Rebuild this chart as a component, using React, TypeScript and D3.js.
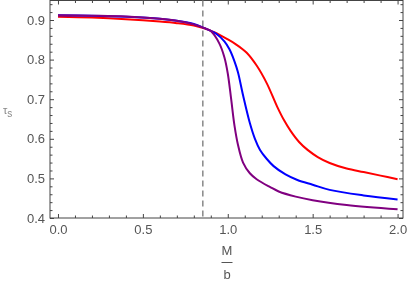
import { useEffect, useRef } from "react";
import * as d3 from "d3";

// curve samples: [M/b, tau_s]
const purpleX = [0, 0.2, 0.4, 0.6, 0.7, 0.8, 0.86, 0.9, 0.95, 0.98, 1.0, 1.02, 1.04, 1.06, 1.09, 1.13, 1.17, 1.25, 1.3, 1.4, 1.5, 1.7, 2.0];
const purpleY = [0.912, 0.911, 0.909, 0.903, 0.898, 0.889, 0.88, 0.872, 0.841, 0.806, 0.765, 0.7, 0.632, 0.585, 0.54, 0.513, 0.498, 0.478, 0.467, 0.454, 0.445, 0.433, 0.422];

const blueX = [0, 0.2, 0.4, 0.6, 0.7, 0.8, 0.86, 0.93, 0.98, 1.01, 1.04, 1.06, 1.09, 1.13, 1.16, 1.19, 1.23, 1.27, 1.34, 1.41, 1.5, 1.6, 1.8, 2.0];
const blueY = [0.912, 0.911, 0.908, 0.903, 0.898, 0.89, 0.88, 0.866, 0.846, 0.826, 0.795, 0.768, 0.71, 0.64, 0.6, 0.572, 0.549, 0.531, 0.51, 0.496, 0.484, 0.471, 0.457, 0.447];

const redX = [0, 0.2, 0.4, 0.6, 0.7, 0.8, 0.86, 0.92, 1.0, 1.05, 1.11, 1.17, 1.23, 1.29, 1.33, 1.37, 1.42, 1.47, 1.53, 1.6, 1.7, 1.8, 1.9, 2.0];
const redY = [0.908, 0.906, 0.902, 0.896, 0.892, 0.886, 0.879, 0.869, 0.851, 0.838, 0.818, 0.785, 0.74, 0.682, 0.648, 0.62, 0.592, 0.572, 0.554, 0.539, 0.525, 0.516, 0.507, 0.498];

const xTicks = [0, 0.5, 1.0, 1.5, 2.0];
const yTicks = [0.4, 0.5, 0.6, 0.7, 0.8, 0.9];
const criticalX = 0.853;

export default function App() {
  const svgRef = useRef<SVGSVGElement>(null);

  useEffect(() => {
    if (!svgRef.current) return;
    const svg = d3.select(svgRef.current);
    svg.selectAll("*").remove();

    const left = 50, right = 403, top = 0.5, bottom = 218;

    const x = d3.scaleLinear().domain([-0.047, 2.032]).range([left, right]);
    const y = d3.scaleLinear().domain([0.4, 0.9 + 19.5 / 396]).range([bottom, top]);

    const frameColor = "#444";
    const labelColor = "#555";
    const font = "'Liberation Sans', Arial, sans-serif";

    const xMinor = d3.range(0, 2.01, 0.1).filter(v => Math.abs(v * 2 - Math.round(v * 2)) > 1e-6);
    const yMinor = d3.range(0.4, 0.95, 0.02).filter(v => Math.abs(v * 10 - Math.round(v * 10)) > 1e-6);

    const styleAxis = (g: d3.Selection<SVGGElement, unknown, null, undefined>) => {
      g.select(".domain").remove();
      g.selectAll("line").attr("stroke", frameColor);
      g.selectAll("text").attr("fill", labelColor).attr("font-family", font).attr("font-size", 13);
    };

    // bottom axis
    svg.append("g")
      .attr("transform", `translate(0,${bottom})`)
      .call(d3.axisBottom(x).tickValues(xTicks).tickSize(-4).tickPadding(6.5).tickFormat(d3.format(".1f")))
      .call(styleAxis);
    svg.append("g")
      .attr("transform", `translate(0,${bottom})`)
      .call(d3.axisBottom(x).tickValues(xMinor).tickSize(-2.5).tickFormat(() => ""))
      .call(styleAxis);
    // top axis
    svg.append("g")
      .attr("transform", `translate(0,${top})`)
      .call(d3.axisTop(x).tickValues(xTicks).tickSize(-4).tickFormat(() => ""))
      .call(styleAxis);
    svg.append("g")
      .attr("transform", `translate(0,${top})`)
      .call(d3.axisTop(x).tickValues(xMinor).tickSize(-2.5).tickFormat(() => ""))
      .call(styleAxis);
    // left axis
    svg.append("g")
      .attr("transform", `translate(${left},0)`)
      .call(d3.axisLeft(y).tickValues(yTicks).tickSize(-4).tickPadding(5).tickFormat(d3.format(".1f")))
      .call(styleAxis);
    svg.append("g")
      .attr("transform", `translate(${left},0)`)
      .call(d3.axisLeft(y).tickValues(yMinor).tickSize(-2.5).tickFormat(() => ""))
      .call(styleAxis);
    // right axis
    svg.append("g")
      .attr("transform", `translate(${right},0)`)
      .call(d3.axisRight(y).tickValues(yTicks).tickSize(-4).tickFormat(() => ""))
      .call(styleAxis);
    svg.append("g")
      .attr("transform", `translate(${right},0)`)
      .call(d3.axisRight(y).tickValues(yMinor).tickSize(-2.5).tickFormat(() => ""))
      .call(styleAxis);

    // frame
    svg.append("rect")
      .attr("x", left).attr("y", top)
      .attr("width", right - left).attr("height", bottom - top)
      .attr("fill", "none").attr("stroke", frameColor).attr("stroke-width", 1);

    // dashed critical line
    svg.append("line")
      .attr("x1", x(criticalX)).attr("x2", x(criticalX))
      .attr("y1", top).attr("y2", bottom)
      .attr("stroke", "#888").attr("stroke-width", 1.5)
      .attr("stroke-dasharray", "6,4");

    const line = d3.line<[number, number]>()
      .x(d => x(d[0]))
      .y(d => y(d[1]))
      .curve(d3.curveCatmullRom.alpha(0.5));

    const series = [
      { xs: redX, ys: redY, color: "#ff0000" },
      { xs: blueX, ys: blueY, color: "#0000ff" },
      { xs: purpleX, ys: purpleY, color: "#800080" },
    ];
    series.forEach(s => {
      svg.append("path")
        .datum(s.xs.map((v, i) => [v, s.ys[i]] as [number, number]))
        .attr("fill", "none")
        .attr("stroke", s.color)
        .attr("stroke-width", 2)
        .attr("d", line);
    });

    // x label: M / b fraction
    const cx = 227;
    svg.append("text")
      .attr("x", cx).attr("y", 255)
      .attr("text-anchor", "middle")
      .attr("font-family", font).attr("font-size", 13)
      .attr("fill", labelColor)
      .text("M");
    svg.append("line")
      .attr("x1", cx - 5.5).attr("x2", cx + 5.5)
      .attr("y1", 262.5).attr("y2", 262.5)
      .attr("stroke", labelColor).attr("stroke-width", 1);
    svg.append("text")
      .attr("x", cx).attr("y", 279)
      .attr("text-anchor", "middle")
      .attr("font-family", font).attr("font-size", 13)
      .attr("fill", labelColor)
      .text("b");

    // y label: tau_s
    const yl = svg.append("text")
      .attr("x", 3).attr("y", 114)
      .attr("font-family", font).attr("font-size", 11)
      .attr("fill", "#888");
    yl.append("tspan").text("τ");
    yl.append("tspan").attr("dy", 3).attr("font-size", 10).text("s");
  }, []);

  return (
    <div style={{ position: "fixed", left: 0, top: 0 }}>
      <svg ref={svgRef} width={407} height={281}></svg>
    </div>
  );
}
